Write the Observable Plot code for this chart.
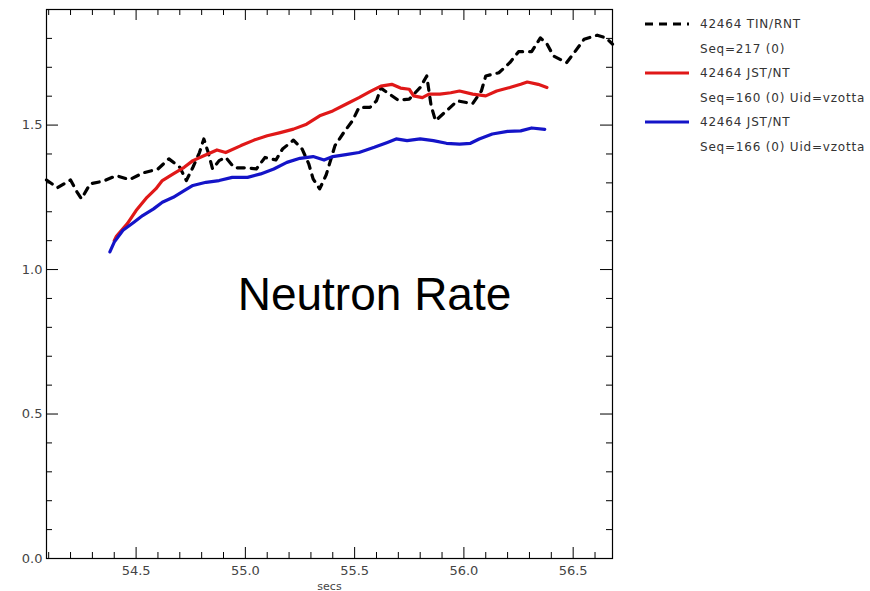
<!DOCTYPE html>
<html><head><meta charset="utf-8">
<script src="https://cdn.jsdelivr.net/npm/d3@7"></script>
<script src="https://cdn.jsdelivr.net/npm/@observablehq/plot@0.6"></script>
<style>
body{margin:0;background:#fff;}
#wrap{position:relative;width:870px;height:591px;overflow:hidden;background:#fff;}
#legend{position:absolute;left:645px;top:12px;font-family:"DejaVu Sans",sans-serif;font-size:12px;color:#333;letter-spacing:0.8px;}
.row{height:24.5px;display:flex;align-items:center;white-space:nowrap;}
.row svg{margin-right:11px;}
.pad{margin-left:55px;}
</style>
</head><body>
<div id="wrap"><div id="chart"></div>
<div id="legend"></div></div>
<script>
// ---- data ----
const tinX = [54.09,54.14,54.20,54.23,54.25,54.29,54.35,54.41,54.47,54.53,54.60,54.65,54.70,54.73,54.76,54.79,54.81,54.83,54.85,54.88,54.91,54.95,55.01,55.05,55.09,55.14,55.17,55.22,55.26,55.29,55.31,55.34,55.37,55.41,55.45,55.49,55.52,55.57,55.60,55.62,55.65,55.70,55.75,55.80,55.83,55.85,55.87,55.92,55.97,56.04,56.08,56.10,56.16,56.21,56.25,56.31,56.35,56.38,56.41,56.47,56.51,56.55,56.61,56.65,56.68];
const tinY = [1.31,1.283,1.31,1.268,1.245,1.297,1.306,1.325,1.311,1.334,1.348,1.383,1.354,1.308,1.354,1.405,1.452,1.405,1.348,1.377,1.388,1.352,1.352,1.348,1.388,1.379,1.417,1.448,1.417,1.366,1.314,1.279,1.328,1.429,1.474,1.515,1.561,1.561,1.584,1.628,1.612,1.586,1.590,1.630,1.670,1.567,1.515,1.549,1.584,1.574,1.618,1.670,1.681,1.716,1.754,1.754,1.802,1.781,1.739,1.716,1.756,1.797,1.811,1.802,1.78];
const jst160X = [54.40,54.41,54.46,54.50,54.55,54.59,54.62,54.67,54.72,54.76,54.81,54.87,54.91,54.98,55.04,55.10,55.16,55.22,55.28,55.34,55.40,55.46,55.52,55.57,55.62,55.67,55.71,55.75,55.77,55.81,55.84,55.89,55.94,55.98,56.04,56.10,56.15,56.21,56.26,56.29,56.34,56.38];
const jst160Y = [1.10,1.115,1.159,1.204,1.250,1.279,1.308,1.331,1.354,1.377,1.394,1.414,1.405,1.429,1.448,1.463,1.474,1.486,1.503,1.532,1.549,1.572,1.595,1.616,1.635,1.641,1.628,1.624,1.601,1.595,1.607,1.607,1.612,1.618,1.607,1.601,1.618,1.630,1.641,1.649,1.641,1.630];
const jst166X = [54.38,54.40,54.44,54.49,54.53,54.58,54.62,54.67,54.72,54.76,54.82,54.88,54.94,55.01,55.07,55.13,55.19,55.25,55.31,55.36,55.40,55.46,55.52,55.59,55.65,55.69,55.74,55.80,55.86,55.92,55.98,56.03,56.07,56.13,56.20,56.26,56.31,56.37];
const jst166Y = [1.061,1.095,1.136,1.164,1.187,1.210,1.233,1.250,1.273,1.291,1.302,1.308,1.319,1.319,1.331,1.348,1.371,1.385,1.391,1.379,1.391,1.398,1.405,1.423,1.440,1.452,1.446,1.452,1.446,1.437,1.434,1.437,1.452,1.469,1.478,1.480,1.490,1.485];

const xMajor = [54.5,55.0,55.5,56.0,56.5];
const xMinor = [54.1,54.2,54.3,54.4,54.6,54.7,54.8,54.9,55.1,55.2,55.3,55.4,55.6,55.7,55.8,55.9,56.1,56.2,56.3,56.4,56.6];
const yMajor = [0,0.5,1.0,1.5];
const yMinor = [0.1,0.2,0.3,0.4,0.6,0.7,0.8,0.9,1.1,1.2,1.3,1.4,1.6,1.7,1.8];

const legendItems = [
  {label:"42464 TIN/RNT", sub:"Seq=217 (0)", color:"#000", dash:"8,6"},
  {label:"42464 JST/NT", sub:"Seq=160 (0) Uid=vzotta", color:"#e01818", dash:null},
  {label:"42464 JST/NT", sub:"Seq=166 (0) Uid=vzotta", color:"#1414c8", dash:null}
];

// ---- layout ----
const W = 870, H = 591, mL = 46, mR = 258, mT = 9, mB = 33;
const innerW = W - mL - mR, innerH = H - mT - mB;
const majorLen = 11, minorLen = 6;

const tin = tinX.map((x,i)=>({x, y: tinY[i]}));
const a = jst160X.map((x,i)=>({x, y: jst160Y[i]}));
const b = jst166X.map((x,i)=>({x, y: jst166Y[i]}));

const tickXs = (vals, len) => [
  Plot.tickX(vals, {x: d=>d, insetTop: innerH - len, stroke: "#000", strokeWidth: 1}),
  Plot.tickX(vals, {x: d=>d, insetBottom: innerH - len, stroke: "#000", strokeWidth: 1})
];
const tickYs = (vals, len) => [
  Plot.tickY(vals, {y: d=>d, insetRight: innerW - len, stroke: "#000", strokeWidth: 1}),
  Plot.tickY(vals, {y: d=>d, insetLeft: innerW - len, stroke: "#000", strokeWidth: 1})
];

const chart = Plot.plot({
  width: W, height: H,
  marginLeft: mL, marginRight: mR, marginTop: mT, marginBottom: mB,
  style: {fontFamily: "DejaVu Sans, sans-serif", fontSize: "13px", background: "#fff"},
  x: {domain: [54.09, 56.68]},
  y: {domain: [0, 1.9]},
  marks: [
    Plot.line(tin, {x: "x", y: "y", stroke: "#000", strokeWidth: 3.2, strokeDasharray: "7,7"}),
    Plot.line(a, {x: "x", y: "y", stroke: "#e01818", strokeWidth: 3.2}),
    Plot.line(b, {x: "x", y: "y", stroke: "#1414c8", strokeWidth: 3.2}),
    ...tickXs(xMajor, majorLen), ...tickXs(xMinor, minorLen),
    ...tickYs(yMajor, 12), ...tickYs(yMinor, minorLen),
    Plot.axisX(xMajor, {tickSize: 0, tickPadding: 7, tickFormat: d3.format(".1f"), fill: "#444", fontSize: 13, label: null}),
    Plot.axisY(yMajor, {tickSize: 0, tickPadding: 4, tickFormat: d3.format(".1f"), fill: "#444", fontSize: 13, label: null}),
    Plot.frame({stroke: "#000", strokeWidth: 1.2}),
    Plot.text(["secs"], {frameAnchor: "bottom", dy: 31, fontSize: 11, fill: "#444"}),
    Plot.text(["Neutron Rate"], {frameAnchor: "middle", dx: 45, dy: 11, fontSize: 46, fontFamily: "Liberation Sans, Arial, sans-serif", fill: "#000"})
  ]
});
document.getElementById("chart").appendChild(chart);

// ---- legend ----
const leg = d3.select("#legend");
legendItems.forEach(it => {
  const r = leg.append("div").attr("class","row");
  const s = r.append("svg").attr("width",44).attr("height",8);
  s.append("line").attr("x1",0).attr("x2",44).attr("y1",4).attr("y2",4)
    .attr("stroke",it.color).attr("stroke-width",3.2)
    .attr("stroke-dasharray", it.dash);
  r.append("span").text(it.label);
  leg.append("div").attr("class","row pad").text(it.sub);
});
</script>
</body></html>
